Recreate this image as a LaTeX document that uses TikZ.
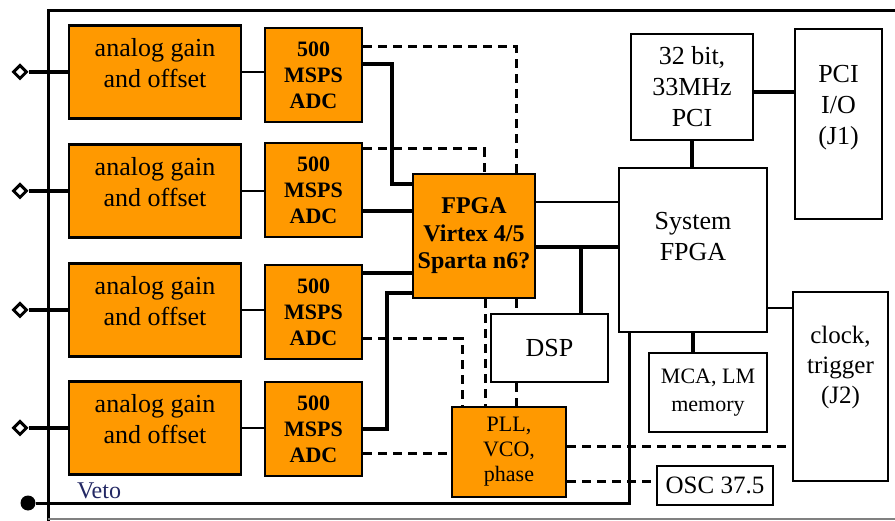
\documentclass[tikz,border=0pt]{standalone}
\usepackage{fontspec}
\setmainfont{Liberation Serif}
\usetikzlibrary{calc,shapes.geometric}
\definecolor{boardorange}{RGB}{255,153,0}
\definecolor{vetoblue}{RGB}{35,40,100}

\begin{document}
\begin{tikzpicture}[x=1pt,y=-1pt]
\tikzstyle{b}=[draw,line width=2.5pt,align=center,inner sep=2pt,font=\fontsize{26}{31}\selectfont]
\tikzstyle{o}=[b,fill=boardorange]
\tikzstyle{adcbox}=[o,font=\bfseries\fontsize{22}{26}\selectfont]
\tikzstyle{bus}=[line width=4.5pt]
\tikzstyle{wire}=[line width=2pt]
\tikzstyle{dsh}=[line width=3pt,dash pattern=on 9pt off 6pt]
\tikzstyle{jack}=[diamond,draw,fill=white,line width=3pt,inner sep=0pt,minimum size=14pt]
\useasboundingbox (0,0) rectangle (895,521);
% board outline
\draw[line width=3pt] (895,11) -- (48,11) -- (48,521);
\draw[gray,line width=1.2pt] (48,519) -- (895,519);
% four input channels
\foreach \i/\ya/\yd in {1/72/75,2/191/190,3/310/312,4/428/429} {
  \node[o,minimum width=172pt,minimum height=93pt,text depth=18pt] (ana\i) at (155,\ya) {analog gain\\and offset};
  \node[adcbox,minimum width=97pt,minimum height=94pt] (adc\i) at (313.5,\yd) {500\\MSPS\\ADC};
  \node[jack] (in\i) at (20,\ya) {};
  \draw[bus] (in\i) -- (ana\i.west);
  \draw[wire] (ana\i.east) -- (ana\i.east -| adc\i.west);
}
\node[o,font=\bfseries\fontsize{24}{27.5}\selectfont,minimum width=122pt,minimum height=124pt] (fpga) at (474,236) {FPGA\\Virtex 4/5\\Sparta n6?};
\node[b,minimum width=117pt,minimum height=68pt] (dsp) at (549.5,348) {DSP};
\node[o,font=\fontsize{22}{25}\selectfont,minimum width=114pt,minimum height=90pt] (pll) at (509,452) {PLL,\\VCO,\\phase};
\node[b,minimum width=148pt,minimum height=164pt,text depth=28pt] (sys) at (693,250) {System\\FPGA};
\node[b,minimum width=122pt,minimum height=106pt] (pci) at (692,87) {32 bit,\\33MHz\\PCI};
\node[b,minimum width=87pt,minimum height=190pt,text depth=38pt] (pcio) at (838.5,124) {PCI\\I/O\\(J1)};
\node[b,font=\fontsize{22}{28}\selectfont,minimum width=118pt,minimum height=79pt] (mca) at (708,392.5) {MCA, LM\\memory};
\node[b,font=\fontsize{25}{30}\selectfont,minimum width=95pt,minimum height=189pt,text depth=44pt] (clock) at (840.5,386.5) {clock,\\trigger\\(J2)};
\node[b,font=\fontsize{25}{30}\selectfont,minimum width=116pt,minimum height=39pt] (osc) at (715,485.5) {OSC 37.5};
\node[circle,fill,inner sep=0pt,minimum size=15pt] (veto) at (28,503) {};
\node[font=\fontsize{24}{28}\selectfont,text=vetoblue] (vetolbl) at (99,491) {Veto};
% ADC data into the FPGA
\draw[bus] ([yshift=11pt]adc1.east) -| ([xshift=-20pt,yshift=52pt]fpga.west) -- ([yshift=52pt]fpga.west);
\draw[bus] ([yshift=-21pt]adc2.east) -- ([yshift=-21pt]adc2.east -| fpga.west);
\draw[bus] ([yshift=39pt]adc3.east) -- ([yshift=39pt]adc3.east -| fpga.west);
\draw[bus] (adc4.east) -| ([xshift=-25pt,yshift=-57pt]fpga.west) -- ([yshift=-57pt]fpga.west);
% clock distribution
\draw[dsh] ([yshift=28pt]adc1.east) -| ([xshift=42pt]fpga.north);
\draw[dsh] ([yshift=41pt]adc2.east) -| ([xshift=10pt]fpga.north);
\draw[dsh] ([yshift=-27pt]adc3.east) -| ([xshift=-47pt]pll.north);
\draw[dsh] ([yshift=-25pt]adc4.east) -- ([yshift=-25pt]adc4.east -| pll.west);
\draw[dsh] ([xshift=11pt]fpga.south) -- ([xshift=11pt]fpga.south |- pll.north);
\draw[dsh] ([xshift=42pt]fpga.south) -- ([xshift=42pt]fpga.south |- dsp.north);
\draw[dsh] ([xshift=42pt]fpga.south |- dsp.south) -- ([xshift=42pt]fpga.south |- pll.north);
\draw[dsh] ([yshift=5pt]pll.east) -- ([yshift=5pt]pll.east -| clock.west);
\draw[dsh] ([yshift=-29pt]pll.east) -- ([yshift=-29pt]pll.east -| osc.west);
% system side
\draw[wire] ([yshift=34pt]fpga.east) -- ([yshift=34pt]fpga.east -| sys.west);
\draw[bus] ([yshift=-11pt]fpga.east) -- ([yshift=-11pt]fpga.east -| sys.west);
\draw[bus] ([xshift=31.5pt]dsp.north) -- ([xshift=31.5pt,yshift=-11pt]dsp.north |- fpga.east);
\draw[bus] (pci.south) -- (pci.south |- sys.north);
\draw[bus] ([yshift=-5pt]pci.east) -- ([yshift=-5pt]pci.east -| pcio.west);
\draw[wire] ([yshift=-58pt]sys.east) -- ([yshift=-58pt]sys.east -| clock.west);
\draw[bus] (sys.south) -- (sys.south |- mca.north);
\draw[line width=3pt] (veto) -| ([xshift=-64pt]sys.south);
\end{tikzpicture}
\end{document}
